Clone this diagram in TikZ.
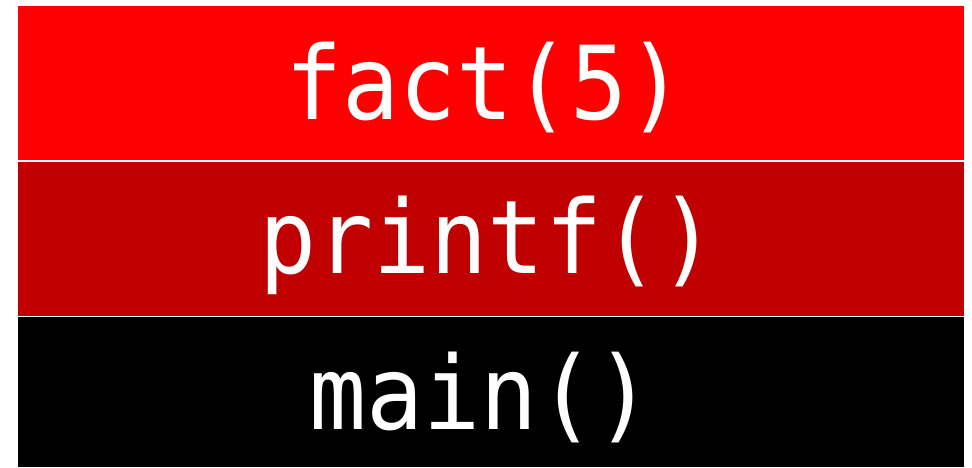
\documentclass[tikz,border=0pt]{standalone}
\usepackage{fontspec}
\newfontfamily\stackmono[FakeStretch=0.93]{DejaVu Sans Mono}
\definecolor{framered}{HTML}{FF0000}
\definecolor{framedark}{HTML}{C00000}
\definecolor{framebase}{HTML}{000000}
\begin{document}
\begin{tikzpicture}[x=1pt,y=1pt,
  frame/.style={inner sep=0pt, outer sep=0pt},
  label/.style={text=white, inner sep=0pt, anchor=base,
    font=\stackmono\fontsize{102}{108}\selectfont}]
\useasboundingbox (0,0) rectangle (972,467);
% stack frames, top to bottom
\fill[framered]  (18,307)   rectangle (963.5,460.5);
\fill[framedark] (18,151.5) rectangle (963.5,305);
\fill[framebase] (18,0)     rectangle (963.5,150);
\node[frame] (top) at (490.75,383.75) {};
\node[frame] (mid) at (490.75,228.25) {};
\node[frame] (bot) at (490.75,75) {};
% frame labels
\node[label] (factlbl)   at (485,348) {fact(5)};
\node[label] (printflbl) at (488,194) {printf()};
\node[label] (mainlbl)   at (481,38)  {main()};
\end{tikzpicture}
\end{document}
